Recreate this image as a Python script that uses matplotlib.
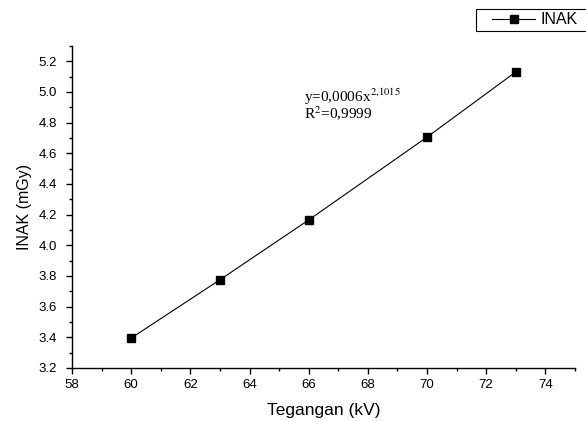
import matplotlib
matplotlib.use("Agg")
import matplotlib.pyplot as plt
from matplotlib.patches import Rectangle
from matplotlib.ticker import MultipleLocator

# data
tegangan = [60, 63, 66, 70, 73]
inak = [3.395, 3.775, 4.165, 4.705, 5.13]

plt.rcParams['font.family'] = ['Liberation Sans', 'DejaVu Sans']

fig = plt.figure(figsize=(5.86, 4.21), dpi=100)
ax = fig.add_axes([0.123, 0.126, 0.858, 0.765])

line, = ax.plot(tegangan, inak, color='black', lw=0.8, marker='s',
                markersize=6.3, markerfacecolor='black', markeredgecolor='black')

ax.set_xlim(58, 75)
ax.set_ylim(3.2, 5.3)
ax.xaxis.set_major_locator(MultipleLocator(2))
ax.xaxis.set_minor_locator(MultipleLocator(1))
ax.yaxis.set_major_locator(MultipleLocator(0.2))
ax.yaxis.set_minor_locator(MultipleLocator(0.1))
ax.yaxis.set_major_formatter(plt.FormatStrFormatter('%.1f'))

for s in ['top', 'right']:
    ax.spines[s].set_visible(False)
for s in ['left', 'bottom']:
    ax.spines[s].set_linewidth(1.0)
ax.tick_params(which='major', direction='out', length=4, width=1, labelsize=9.5)
ax.tick_params(axis='x', which='major', pad=4)
ax.tick_params(axis='y', which='major', pad=7)
ax.tick_params(which='minor', direction='out', length=2.2, width=1)

ax.set_xlabel('Tegangan (kV)', fontsize=12.5)
ax.set_ylabel('INAK (mGy)', fontsize=11.5)
ax.xaxis.set_label_coords(0.5, -0.11)
ax.yaxis.set_label_coords(-0.08, 0.5)

# fit equation (serif, like the original), one block of two lines
ax.text(0.462, 0.773, 'y=0,0006x$^{2{,}1015}$\nR$^{2}$=0,9999', transform=ax.transAxes,
        fontsize=11, family='Liberation Serif', math_fontfamily='stix',
        ha='left', va='baseline', linespacing=0.85)

# legend box runs past the right edge of the figure in the original
leg = fig.legend([line], ['INAK'], loc='center left', bbox_to_anchor=(492 / 586, 1 - 20 / 421),
                 fontsize=11.5, frameon=False, handlelength=2.7,
                 borderpad=0, handletextpad=0.35, borderaxespad=0)
fig.patches.append(Rectangle((476 / 586, 1 - 31 / 421), 0.2, 22 / 421, transform=fig.transFigure,
                             facecolor='none', edgecolor='black', lw=0.8, figure=fig))

fig.savefig('out.png', dpi=100)
